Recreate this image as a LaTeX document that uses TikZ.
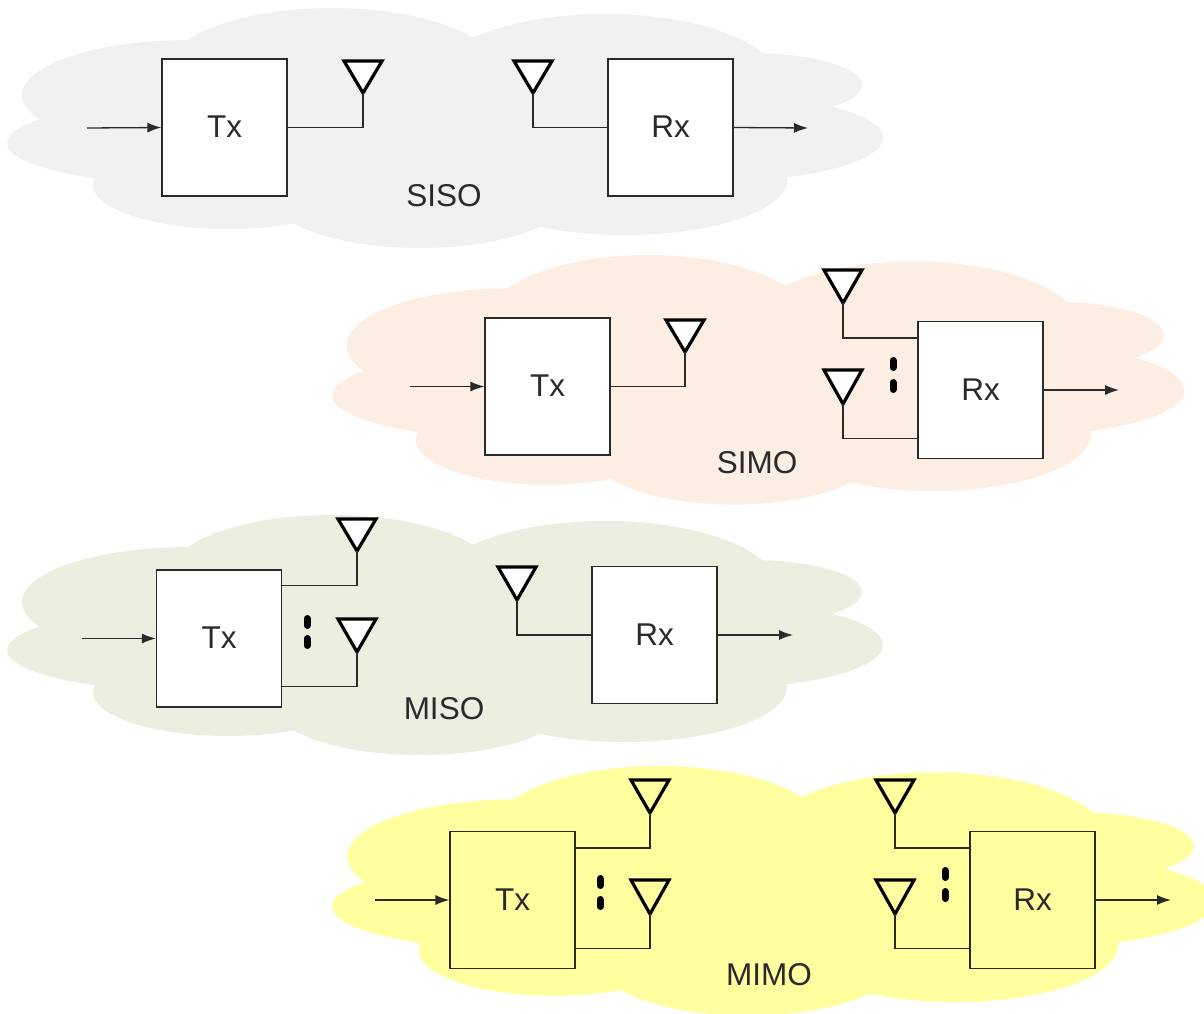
\documentclass[tikz,border=0pt]{standalone}
\usepackage{fontspec}
\setmainfont{Liberation Sans}
\usetikzlibrary{arrows.meta,calc}
\definecolor{cgray}{HTML}{F1F1F1}
\definecolor{cpeach}{HTML}{FDEEE3}
\definecolor{cgreen}{HTML}{EBEFDF}
\definecolor{cyel}{HTML}{FFFFA0}
\definecolor{ink}{HTML}{2A2A2A}
\newcommand{\lifted}[1]{\raisebox{1pt}{#1}}
\tikzset{
  blockbox/.style={draw=ink,line width=1.3pt,fill=white,minimum width=125pt,minimum height=137pt,inner sep=0pt,font=\fontsize{31.5}{31.5}\selectfont,text=ink},
  wire/.style={draw=ink,line width=1.3pt},
  flow/.style={wire,-{Latex[length=14pt,width=10pt]}},
  antbody/.style={draw=black,line width=3.2pt,line join=miter,fill=white},
  lbl/.style={font=\fontsize{31.5}{31.5}\selectfont,text=ink,inner sep=0pt},
  vdot/.style={line width=7pt,line cap=round,draw=black},
}
\newcommand{\cloudlobes}[1]{%
  \fill[#1] (190,95) ellipse [x radius=168,y radius=55];
  \fill[#1] (200,143) ellipse [x radius=193,y radius=42];
  \fill[#1] (228,185) ellipse [x radius=135,y radius=44];
  \fill[#1] (420,195) ellipse [x radius=150,y radius=53];
  \fill[#1] (625,180) ellipse [x radius=162,y radius=55];
  \fill[#1] (720,138) ellipse [x radius=163,y radius=43];
  \fill[#1] (750,85) ellipse [x radius=112,y radius=32];
  \fill[#1] (605,80) ellipse [x radius=172,y radius=66];
  \fill[#1] (332,70) ellipse [x radius=165,y radius=62];
  \fill[#1] (150,60) rectangle (760,190);}
\newcommand{\antenna}[5][white]{% fill, name, x, top, apex
  \coordinate (#2) at (#3,#5);
  \draw[antbody,fill=#1] (#3-19,#4) -- (#3+19,#4) -- (#3,#5) -- cycle;}
\newcommand{\dotpair}[3]{%
  \draw[vdot] (#1,#2-3.5) -- (#1,#2+3.5);
  \draw[vdot] (#1,#3-3.5) -- (#1,#3+3.5);}
\begin{document}
\begin{tikzpicture}[x=1pt,y=-1pt]
\useasboundingbox (0,0) rectangle (1204,1014);
\clip (0,0) rectangle (1204,1014);
% clouds
\begin{scope}\cloudlobes{cgray}\end{scope}
\begin{scope}[shift={(325.2,246.7)},xscale=.973,yscale=1.04]\cloudlobes{cpeach}\end{scope}
\begin{scope}[shift={(0,507)}]\cloudlobes{cgreen}\end{scope}
\begin{scope}[shift={(325,757.7)},xscale=1.008,yscale=1.04]\cloudlobes{cyel}\end{scope}
% SISO
\node[blockbox] (tx1) at (224.5,127.5) {\lifted{Tx}};
\node[blockbox] (rx1) at (670.5,127.5) {\lifted{Rx}};
\antenna{a1}{363}{61}{93}
\antenna{b1}{533}{61}{93}
\coordinate (in1) at (87,128);
\coordinate (out1) at (808,128);
\draw[flow] (in1) -- (tx1.west);
\draw[wire] (tx1.east) -| (a1);
\draw[wire] (rx1.west) -| (b1);
\draw[flow] (rx1.east) -- (out1);
\node[lbl] (siso) at (444,195.7) {SISO};
% SIMO
\node[blockbox] (tx2) at (547.5,386.5) {\lifted{Tx}};
\node[blockbox] (rx2) at (980.5,390) {\lifted{Rx}};
\antenna{a2}{685}{320}{352}
\antenna{b2}{843}{270}{303}
\antenna{c2}{843}{370}{404}
\coordinate (in2) at (410,386.5);
\coordinate (out2) at (1119,390);
\draw[flow] (in2) -- (tx2.west);
\draw[wire] (tx2.east) -| (a2);
\draw[wire] ($(rx2.north west)+(0,17)$) -| (b2);
\draw[wire] ($(rx2.south west)+(0,-21)$) -| (c2);
\draw[flow] (rx2.east) -- (out2);
\dotpair{893}{364}{386}
\node[lbl] (simo) at (757,462.7) {SIMO};
% MISO
\node[blockbox] (tx3) at (219,638.5) {\lifted{Tx}};
\node[blockbox] (rx3) at (654.5,635) {\lifted{Rx}};
\antenna{a3}{357}{519}{551}
\antenna{c3}{357}{619}{652}
\antenna{b3}{517}{567}{600}
\coordinate (in3) at (82,638.5);
\coordinate (out3) at (793,635);
\draw[flow] (in3) -- (tx3.west);
\draw[wire] ($(tx3.north east)+(0,16)$) -| (a3);
\draw[wire] ($(tx3.south east)+(0,-21)$) -| (c3);
\draw[wire] (rx3.west) -| (b3);
\draw[flow] (rx3.east) -- (out3);
\dotpair{307}{622}{642}
\node[lbl] (miso) at (444,708.7) {MISO};
% MIMO
\node[blockbox,fill=cyel] (tx4) at (512.5,900) {\lifted{Tx}};
\node[blockbox,fill=cyel] (rx4) at (1032.5,900) {\lifted{Rx}};
\antenna[cyel]{a4}{650}{780}{813}
\antenna[cyel]{c4}{650}{880}{914}
\antenna[cyel]{b4}{895}{780}{813}
\antenna[cyel]{d4}{895}{880}{914}
\coordinate (in4) at (375,900);
\coordinate (out4) at (1171,900);
\draw[flow] (in4) -- (tx4.west);
\draw[wire] ($(tx4.north east)+(0,17)$) -| (a4);
\draw[wire] ($(tx4.south east)+(0,-21)$) -| (c4);
\draw[wire] ($(rx4.north west)+(0,17)$) -| (b4);
\draw[wire] ($(rx4.south west)+(0,-21)$) -| (d4);
\draw[flow] (rx4.east) -- (out4);
\dotpair{600}{882}{903}
\dotpair{945}{874}{895}
\node[lbl] (mimo) at (769,974.7) {MIMO};
\end{tikzpicture}
\end{document}
